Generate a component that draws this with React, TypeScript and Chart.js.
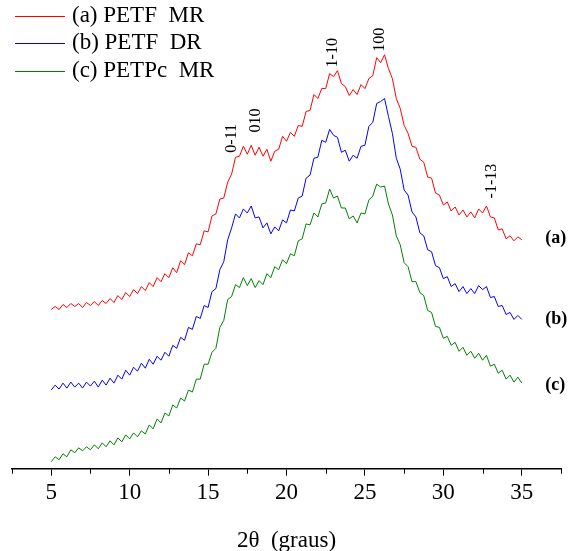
import React, { useEffect, useRef } from "react";
import { Chart, registerables } from "chart.js";

Chart.register(...registerables);

const ANGLES = [
  5, 5.25, 5.5, 5.75, 6, 6.25, 6.5, 6.75, 7, 7.25, 7.5, 7.75, 8, 8.25, 8.5, 8.75,
  9, 9.25, 9.5, 9.75, 10, 10.25, 10.5, 10.75, 11, 11.25, 11.5, 11.75, 12, 12.25, 12.5, 12.75,
  13, 13.25, 13.5, 13.75, 14, 14.25, 14.5, 14.75, 15, 15.25, 15.5, 15.75, 16, 16.25, 16.5, 16.75,
  17, 17.25, 17.5, 17.75, 18, 18.25, 18.5, 18.75, 19, 19.25, 19.5, 19.75, 20, 20.25, 20.5, 20.75,
  21, 21.25, 21.5, 21.75, 22, 22.25, 22.5, 22.75, 23, 23.25, 23.5, 23.75, 24, 24.25, 24.5, 24.75,
  25, 25.25, 25.5, 25.75, 26, 26.25, 26.5, 26.75, 27, 27.25, 27.5, 27.75, 28, 28.25, 28.5, 28.75,
  29, 29.25, 29.5, 29.75, 30, 30.25, 30.5, 30.75, 31, 31.25, 31.5, 31.75, 32, 32.25, 32.5, 32.75,
  33, 33.25, 33.5, 33.75, 34, 34.25, 34.5, 34.75, 35,
];

const PETF_MR = [
  160, 163, 160, 165, 162, 166, 163, 166, 162, 167, 164, 168, 164, 169, 166, 171,
  167, 174, 170, 177, 173, 180, 176, 183, 179, 187, 183, 192, 188, 196, 192, 202,
  197, 209, 205, 217, 214, 226, 225, 239, 238, 254, 256, 271, 272, 288, 296, 313,
  314, 324, 316, 325, 315, 323, 314, 321, 309, 319, 321, 334, 329, 338, 334, 345,
  344, 359, 360, 376, 372, 382, 382, 397, 394, 400, 387, 384, 375, 381, 376, 386,
  382, 392, 395, 413, 408, 416, 402, 392, 372, 362, 345, 337, 324, 323, 311, 308,
  293, 292, 277, 275, 265, 268, 259, 263, 255, 260, 253, 258, 252, 261, 257, 264,
  253, 252, 240, 241, 231, 234, 229, 233, 230,
];

const PETF_DR = [
  79, 84, 80, 86, 81, 87, 82, 86, 81, 87, 83, 88, 82, 89, 84, 91,
  86, 94, 90, 99, 94, 102, 98, 106, 101, 110, 105, 113, 109, 117, 113, 124,
  121, 132, 129, 142, 140, 153, 151, 164, 162, 178, 181, 200, 208, 230, 242, 256,
  252, 261, 257, 264, 252, 253, 242, 247, 236, 243, 239, 250, 247, 260, 259, 272,
  274, 292, 295, 312, 313, 330, 328, 341, 335, 333, 318, 320, 309, 315, 312, 324,
  325, 344, 348, 367, 369, 372, 354, 337, 312, 301, 280, 275, 258, 253, 237, 234,
  220, 218, 204, 202, 191, 193, 183, 186, 178, 183, 176, 181, 176, 184, 180, 183,
  172, 173, 163, 164, 155, 157, 150, 154, 150,
];

const PETPC_MR = [
  7, 12, 9, 15, 12, 19, 16, 21, 18, 22, 19, 24, 20, 26, 22, 28,
  24, 31, 27, 34, 30, 36, 32, 38, 35, 44, 40, 50, 46, 56, 53, 64,
  61, 71, 68, 79, 77, 90, 90, 105, 105, 117, 121, 142, 149, 170, 173, 185,
  182, 192, 184, 191, 182, 189, 185, 196, 192, 203, 200, 210, 206, 216, 214, 229,
  231, 246, 245, 257, 253, 266, 267, 281, 272, 274, 262, 262, 251, 254, 247, 257,
  256, 270, 274, 286, 283, 284, 266, 255, 234, 225, 207, 203, 188, 188, 177, 174,
  159, 157, 143, 142, 131, 133, 124, 127, 118, 122, 114, 118, 111, 116, 109, 114,
  103, 105, 96, 99, 90, 94, 87, 92, 86,
];

const SERIES_NAMES = ["(a) PETF  MR", "(b) PETF  DR", "(c) PETPc  MR"];
const SERIES_COLORS = ["#ff0000", "#0000ff", "#008000"];
const SERIES_VALUES = [PETF_MR, PETF_DR, PETPC_MR];

const END_LABELS = ["(a)", "(b)", "(c)"];
const END_LABEL_X = 36.5;
const END_LABEL_Y = [231, 150, 84];

const PEAK_LABELS = ["0-11", "010", "1-10", "100", "-1-13"];
const PEAK_X = [16.53, 18.06, 22.96, 25.96, 33.09];
const PEAK_Y = [332, 350, 418, 431, 289];

const X_TITLE = "2θ  (graus)";
const FONT = "'Liberation Serif', 'Times New Roman', serif";

const decorPlugin = {
  id: "decor",
  afterDraw(chart: any) {
    const { ctx, scales, chartArea } = chart;
    const xs = scales.x;
    const ys = scales.y;
    ctx.save();
    // minor ticks
    ctx.strokeStyle = "#000";
    ctx.lineWidth = 1;
    for (let v = 2.5; v <= 37.5; v += 5) {
      const px = Math.round(xs.getPixelForValue(v)) + 0.5;
      ctx.beginPath();
      ctx.moveTo(px, chartArea.bottom);
      ctx.lineTo(px, chartArea.bottom + 5);
      ctx.stroke();
    }
    // legend
    ctx.font = `23px ${FONT}`;
    ctx.textBaseline = "middle";
    ctx.textAlign = "left";
    const rowY = [16, 43, 71];
    SERIES_NAMES.forEach((name, i) => {
      ctx.strokeStyle = SERIES_COLORS[i];
      ctx.lineWidth = 1;
      ctx.beginPath();
      ctx.moveTo(15, rowY[i] + 0.5);
      ctx.lineTo(65, rowY[i] + 0.5);
      ctx.stroke();
      ctx.fillStyle = "#000";
      ctx.fillText(name, 72, rowY[i]);
    });
    // end labels
    ctx.font = `bold 18px ${FONT}`;
    END_LABELS.forEach((t, i) => {
      ctx.fillText(t, xs.getPixelForValue(END_LABEL_X), ys.getPixelForValue(END_LABEL_Y[i]));
    });
    // peak labels (rotated)
    ctx.font = `16px ${FONT}`;
    ctx.textAlign = "center";
    PEAK_LABELS.forEach((t, i) => {
      ctx.save();
      ctx.translate(xs.getPixelForValue(PEAK_X[i]), ys.getPixelForValue(PEAK_Y[i]));
      ctx.rotate(-Math.PI / 2);
      ctx.fillText(t, 0, 0);
      ctx.restore();
    });
    ctx.restore();
  },
};

export default function App() {
  const ref = useRef<HTMLCanvasElement | null>(null);
  useEffect(() => {
    if (!ref.current) return;
    const chart = new Chart(ref.current, {
      type: "line",
      data: {
        datasets: SERIES_VALUES.map((vals, i) => ({
          label: SERIES_NAMES[i],
          data: ANGLES.map((a, j) => ({ x: a, y: vals[j] })),
          borderColor: SERIES_COLORS[i],
          backgroundColor: SERIES_COLORS[i],
          borderWidth: 1,
          pointRadius: 0,
          tension: 0,
          fill: false,
        })),
      },
      options: {
        animation: false,
        responsive: false,
        maintainAspectRatio: false,
        layout: { padding: { left: 12, right: 7, top: 0, bottom: 0 } },
        plugins: {
          legend: { display: false },
          tooltip: { enabled: false },
        },
        scales: {
          x: {
            type: "linear",
            min: 2.5,
            max: 37.5,
            border: { display: true, color: "#000", width: 1.5 },
            grid: {
              display: true,
              drawOnChartArea: false,
              drawTicks: true,
              tickLength: 7,
              tickColor: (c: any) => (c.tick && c.tick.value % 5 === 0 ? "#000" : "rgba(0,0,0,0)"),
            },
            ticks: {
              stepSize: 2.5,
              autoSkip: false,
              maxRotation: 0,
              padding: 3,
              color: "#000",
              font: { family: FONT, size: 23 },
              callback: (v: any) => (Number(v) % 5 === 0 ? String(v) : ""),
            },
            title: {
              display: true,
              text: X_TITLE,
              color: "#000",
              font: { family: FONT, size: 23, lineHeight: 0.9 },
              padding: { top: 21, bottom: 0 },
            },
          },
          y: {
            display: false,
            min: 0,
            max: 471,
          },
        },
      },
      plugins: [decorPlugin],
    });
    return () => chart.destroy();
  }, []);
  return (
    <div style={{ position: "fixed", left: 0, top: 0, width: 568, height: 551, background: "#fff" }}>
      <canvas ref={ref} width={568} height={551} />
    </div>
  );
}
